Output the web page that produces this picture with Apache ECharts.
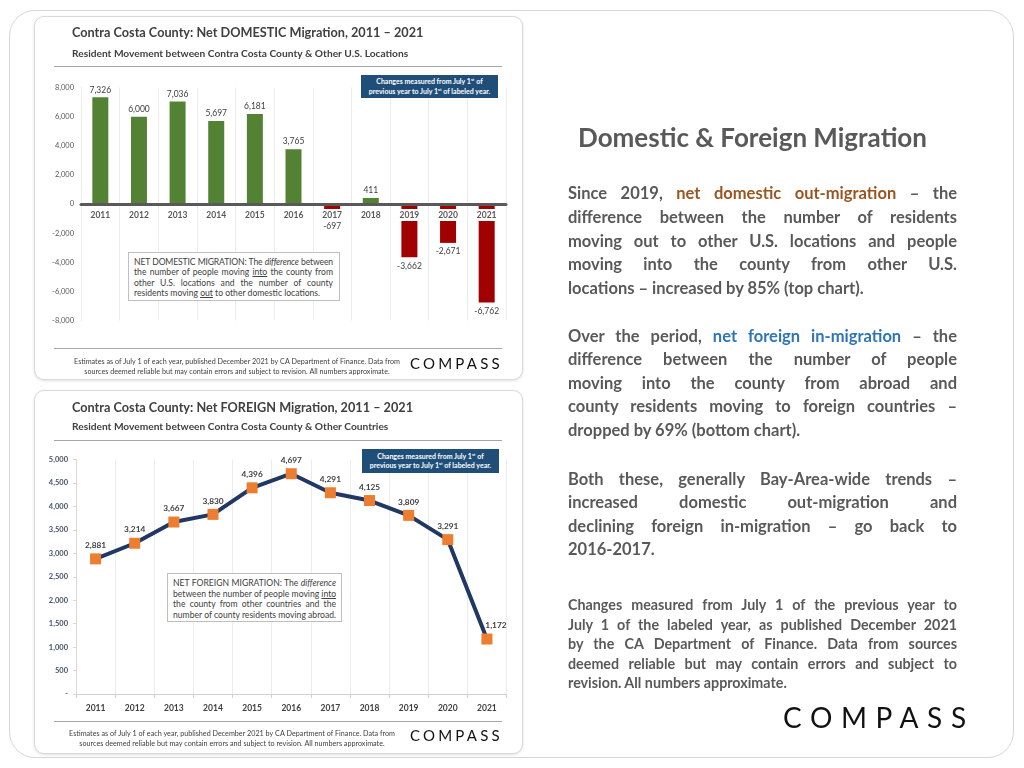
<!DOCTYPE html>
<html>
<head>
<meta charset="utf-8">
<script src="https://cdn.jsdelivr.net/npm/echarts/dist/echarts.min.js"></script>
<style>
  html, body { margin:0; padding:0; background:#fff; }
  body { width:1024px; height:768px; position:relative; overflow:hidden; font-family: Lato, "Open Sans", sans-serif; }
  .outer { position:absolute; left:9px; top:10px; width:1005px; height:748px; box-sizing:border-box; border:1.5px solid #d6d6d6; border-radius:26px; }
  .panel { position:absolute; left:34px; width:489px; height:364px; box-sizing:border-box; border:1px solid #d9d9d9; border-radius:10px; box-shadow:0 1px 3px rgba(0,0,0,0.12); background:#fff; }
  #chart { position:absolute; left:0; top:0; width:1024px; height:768px; z-index:1; }
  .ov { position:absolute; z-index:2; }
  .line { white-space:nowrap; text-align:justify; text-align-last:justify; overflow:visible; }
  .last { white-space:nowrap; text-align:left; text-align-last:left; }
  .navy { background:#1F4E79; color:#fff; font-weight:700; font-size:7px; line-height:9.5px; text-align:center; display:flex; flex-direction:column; justify-content:center; }
  .navy sup { font-size:4.5px; line-height:0; vertical-align:3px; color:#fff; }
  .tbox { background:#fff; border:1px solid #bfbfbf; color:#404040; font-size:8.6px; box-sizing:border-box; }
  .compass { font-family: Lato, sans-serif; color:#111; font-weight:400; white-space:nowrap; }
  .side { color:#595959; font-weight:700; }
</style>
</head>
<body>
<div class="outer"></div>
<div class="panel" style="top:16px;"></div>
<div class="panel" style="top:390px;"></div>
<div id="chart"></div>

<!-- navy notes -->
<div class="ov navy" style="left:361px; top:75px; width:137px; height:23px;">
  <div>Changes measured from July 1<sup>st</sup> of</div>
  <div>previous year to July 1<sup>st</sup> of labeled year.</div>
</div>
<div class="ov navy" style="left:362px; top:449px; width:137px; height:24px;">
  <div>Changes measured from July 1<sup>st</sup> of</div>
  <div>previous year to July 1<sup>st</sup> of labeled year.</div>
</div>

<!-- definition boxes -->
<div class="ov tbox" style="left:128px; top:252px; width:212px; height:49px; padding:4px 6px 0 5px; line-height:10.3px;">
  <div class="line">NET DOMESTIC MIGRATION: The <i>difference</i> between</div>
  <div class="line">the number of people moving <u>into</u> the county from</div>
  <div class="line">other U.S. locations and the number of county</div>
  <div class="last">residents moving <u>out</u> to other domestic locations.</div>
</div>
<div class="ov tbox" style="left:167px; top:573px; width:175px; height:49px; padding:4px 5px 0 5px; line-height:10.6px;">
  <div class="line">NET FOREIGN MIGRATION: The <i>difference</i></div>
  <div class="line">between the number of people moving <u>into</u></div>
  <div class="line">the county from other countries and the</div>
  <div class="last">number of county residents moving abroad.</div>
</div>

<!-- small logos -->
<div class="ov compass" style="left:410px; top:354px; font-size:15px; letter-spacing:3.2px;">COMPASS</div>
<div class="ov compass" style="left:410px; top:726px; font-size:15px; letter-spacing:3.2px;">COMPASS</div>

<!-- right side text -->
<div class="ov side" style="left:558px; top:120px; width:389px; text-align:center; font-size:26px; line-height:34px;">Domestic &amp; Foreign Migration</div>
<div class="ov side" style="left:568px; top:182px; width:389px; font-size:16.5px; line-height:23.8px;">
  <div class="line">Since 2019, <span style="color:#9A5520">net domestic out-migration</span> – the</div>
  <div class="line">difference between the number of residents</div>
  <div class="line">moving out to other U.S. locations and people</div>
  <div class="line">moving into the county from other U.S.</div>
  <div class="last">locations – increased by 85% (top chart).</div>
</div>
<div class="ov side" style="left:568px; top:325px; width:389px; font-size:16.5px; line-height:23.4px;">
  <div class="line">Over the period, <span style="color:#2E75B6">net foreign in-migration</span> – the</div>
  <div class="line">difference between the number of people</div>
  <div class="line">moving into the county from abroad and</div>
  <div class="line">county residents moving to foreign countries –</div>
  <div class="last">dropped by 69% (bottom chart).</div>
</div>
<div class="ov side" style="left:568px; top:468px; width:389px; font-size:16.5px; line-height:23.4px;">
  <div class="line">Both these, generally Bay-Area-wide trends –</div>
  <div class="line">increased domestic out-migration and</div>
  <div class="line">declining foreign in-migration – go back to</div>
  <div class="last">2016-2017.</div>
</div>
<div class="ov side" style="left:568px; top:595px; width:389px; font-size:14.3px; line-height:19.5px;">
  <div class="line">Changes measured from July 1 of the previous year to</div>
  <div class="line">July 1 of the labeled year, as published December 2021</div>
  <div class="line">by the CA Department of Finance. Data from sources</div>
  <div class="line">deemed reliable but may contain errors and subject to</div>
  <div class="last">revision. All numbers approximate.</div>
</div>
<div class="ov compass" style="left:783px; top:700px; font-size:28px; letter-spacing:8.6px;">COMPASS</div>

<script>
// squeeze any justified line that is naturally wider than its box
document.querySelectorAll('.line, .last').forEach(el => {
  let ls = 0;
  while (el.scrollWidth > el.clientWidth + 0.5 && ls > -1.2) {
    ls -= 0.05;
    el.style.letterSpacing = ls.toFixed(2) + 'px';
  }
});

// ---- data ----
const years = ['2011','2012','2013','2014','2015','2016','2017','2018','2019','2020','2021'];
const domesticValues = [7326, 6000, 7036, 5697, 6181, 3765, -697, 411, -3662, -2671, -6762];
const foreignValues = [2881, 3214, 3667, 3830, 4396, 4697, 4291, 4125, 3809, 3291, 1172];
const domesticTicks = [-8000, -6000, -4000, -2000, 0, 2000, 4000, 6000, 8000];
const foreignTicks = [0, 500, 1000, 1500, 2000, 2500, 3000, 3500, 4000, 4500, 5000];

const FONT = 'Lato, "Open Sans", sans-serif';
const GREEN = '#548235', RED = '#A00000', NAVY = '#1F3864', ORANGE = '#ED7D31';
const fmt = v => Number(v).toLocaleString('en-US');

const chart = echarts.init(document.getElementById('chart'), null, {renderer:'canvas'});

const barData = domesticValues.map((v, i) => ({
  value: v,
  itemStyle: { color: v >= 0 ? GREEN : RED },
  label: v >= 0 ? { position: 'top' } : { position: 'bottom', distance: i === 6 ? 8 : 4 }
}));
// year labels sitting on the zero line of the domestic chart
const yearOnZero = years.map(y => [y, 0]);
const lineData = foreignValues.map((v, i) => (
  i === foreignValues.length - 1 ? { value: v, label: { offset: [9, 0] } } : { value: v }
));

function txt(x, y, text, size, weight, color, align) {
  return { type:'text', x:x, y:y, z:10, silent:true,
    style:{ text:text, fontSize:size, fontWeight:weight, fontFamily:FONT, fill:color,
            align: align || 'left', verticalAlign:'middle' } };
}
function hline(x1, x2, y) {
  return { type:'line', z:10, silent:true, shape:{x1:x1, y1:y, x2:x2, y2:y}, style:{ stroke:'#a6a6a6', lineWidth:1 } };
}

const option = {
  animation: false,
  textStyle: { fontFamily: FONT },
  grid: [
    { left:81, right:518, top:87.5, bottom:447.5, containLabel:false, outerBoundsMode:'none' },
    { left:76, right:517.5, top:459.5, bottom:74, containLabel:false, outerBoundsMode:'none' }
  ],
  xAxis: [
    { type:'category', gridIndex:0, data:years, z:5,
      axisLine:{ onZero:true, lineStyle:{ color:'#595959', width:3 } },
      axisTick:{ show:false },
      axisLabel:{ show:false },
      splitLine:{ show:true, lineStyle:{ color:'#ececec', width:1 } } },
    { type:'category', gridIndex:1, data:years,
      axisLine:{ lineStyle:{ color:'#d0d0d0', width:1 } },
      axisTick:{ show:true, length:4, lineStyle:{ color:'#d0d0d0' } },
      axisLabel:{ fontSize:8.5, fontWeight:'bold', color:'#404040', margin:10 },
      splitLine:{ show:true, lineStyle:{ color:'#ececec', width:1 } } }
  ],
  yAxis: [
    { type:'value', gridIndex:0, min:domesticTicks[0], max:domesticTicks[domesticTicks.length-1], interval:domesticTicks[1]-domesticTicks[0],
      axisLine:{ show:true, lineStyle:{ color:'#e0e0e0' } }, axisTick:{ show:false },
      splitLine:{ show:false },
      axisLabel:{ fontSize:7.5, color:'#595959', margin:7, formatter: v => fmt(v) } },
    { type:'value', gridIndex:1, min:foreignTicks[0], max:foreignTicks[foreignTicks.length-1], interval:foreignTicks[1]-foreignTicks[0],
      axisLine:{ show:true, lineStyle:{ color:'#d9d9d9' } }, axisTick:{ show:true, length:3, lineStyle:{ color:'#d9d9d9' } },
      splitLine:{ show:false },
      axisLabel:{ fontSize:7.5, fontWeight:'bold', color:'#44546A', margin:8, formatter: v => v === 0 ? '-' : fmt(v) } }
  ],
  series: [
    { type:'bar', xAxisIndex:0, yAxisIndex:0, data:barData, barWidth:16, z:2,
      label:{ show:true, fontSize:8.5, color:'#404040', distance:3, formatter: p => fmt(p.value) } },
    { type:'scatter', xAxisIndex:0, yAxisIndex:0, data:yearOnZero, z:4, silent:true,
      symbol:'rect', symbolSize:[22, 12], symbolOffset:[0, 11],
      itemStyle:{ color:'#ffffff', opacity:1 },
      label:{ show:true, position:'inside', fontSize:8.5, fontWeight:'bold', color:'#595959',
              formatter: p => years[p.dataIndex] } },
    { type:'line', xAxisIndex:1, yAxisIndex:1, data:lineData,
      lineStyle:{ color:NAVY, width:4 }, symbol:'rect', symbolSize:11,
      itemStyle:{ color:ORANGE, borderWidth:0 },
      label:{ show:true, position:'top', distance:4, fontSize:8.3, fontWeight:'bold', color:'#404040', formatter: p => fmt(p.value) } }
  ],
  graphic: [
    txt(72, 33, 'Contra Costa County: Net DOMESTIC Migration, 2011 – 2021', 12.7, 'bold', '#404040'),
    txt(72, 54, 'Resident Movement between Contra Costa County & Other U.S. Locations', 10.2, 'bold', '#404040'),
    hline(54, 502, 66.5),
    hline(54, 502, 348.5),
    txt(237, 362, 'Estimates as of July 1 of each year, published December 2021 by CA Department of Finance. Data from', 7.2, 'normal', '#404040', 'center'),
    txt(237, 372, 'sources deemed reliable but may contain errors and subject to revision. All numbers approximate.', 7.2, 'normal', '#404040', 'center'),

    txt(72, 408, 'Contra Costa County: Net FOREIGN Migration, 2011 – 2021', 12.7, 'bold', '#404040'),
    txt(72, 427, 'Resident Movement between Contra Costa County & Other Countries', 10.2, 'bold', '#404040'),
    hline(54, 502, 440.5),
    hline(54, 502, 721.5),
    txt(232, 734, 'Estimates as of July 1 of each year, published December 2021 by CA Department of Finance. Data from', 7.2, 'normal', '#404040', 'center'),
    txt(232, 744, 'sources deemed reliable but may contain errors and subject to revision. All numbers approximate.', 7.2, 'normal', '#404040', 'center')
  ]
};
chart.setOption(option);
</script>
</body>
</html>
